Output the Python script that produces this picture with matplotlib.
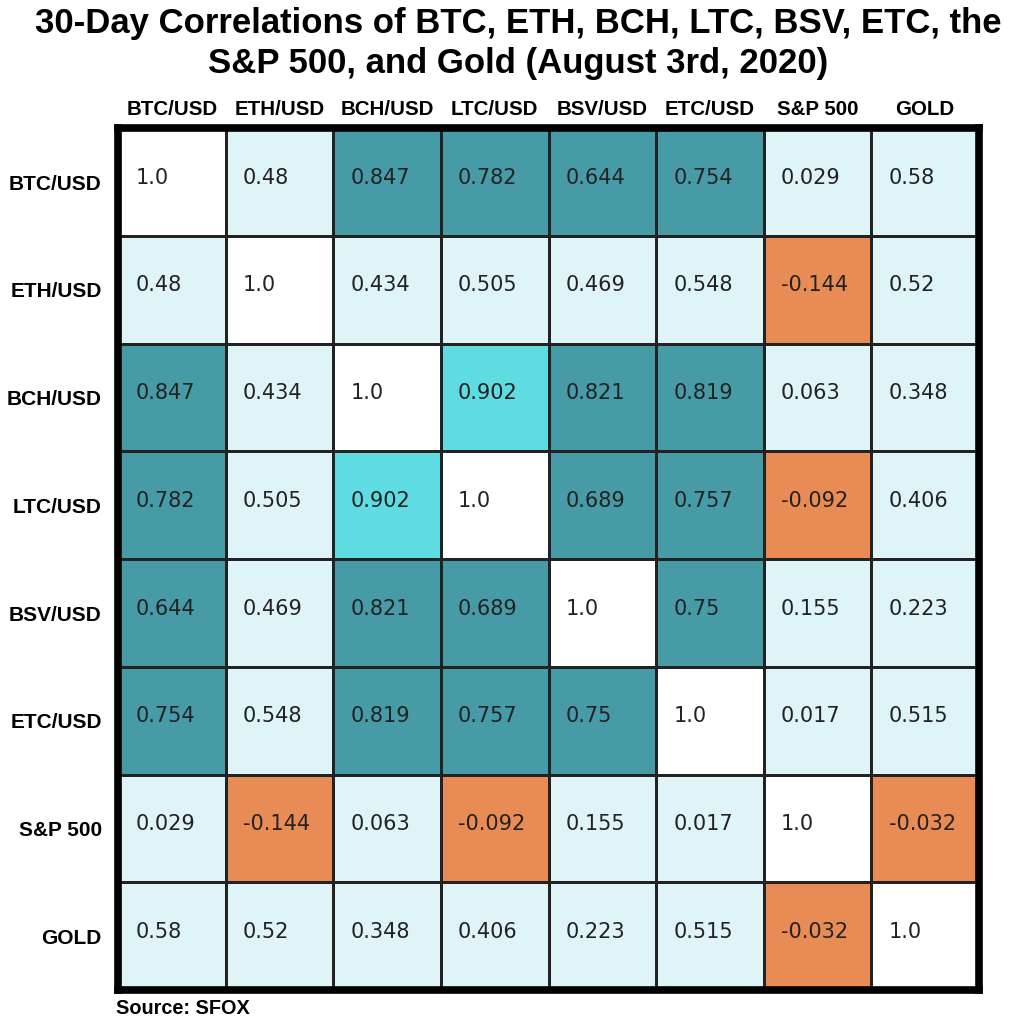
import numpy as np
import matplotlib
matplotlib.use("Agg")
import matplotlib.pyplot as plt
from matplotlib.colors import ListedColormap, BoundaryNorm

labels = ["BTC/USD", "ETH/USD", "BCH/USD", "LTC/USD", "BSV/USD", "ETC/USD", "S&P 500", "GOLD"]
btc = [1.0, 0.48, 0.847, 0.782, 0.644, 0.754, 0.029, 0.58]
eth = [0.48, 1.0, 0.434, 0.505, 0.469, 0.548, -0.144, 0.52]
bch = [0.847, 0.434, 1.0, 0.902, 0.821, 0.819, 0.063, 0.348]
ltc = [0.782, 0.505, 0.902, 1.0, 0.689, 0.757, -0.092, 0.406]
bsv = [0.644, 0.469, 0.821, 0.689, 1.0, 0.75, 0.155, 0.223]
etc = [0.754, 0.548, 0.819, 0.757, 0.75, 1.0, 0.017, 0.515]
spx = [0.029, -0.144, 0.063, -0.092, 0.155, 0.017, 1.0, -0.032]
gold = [0.58, 0.52, 0.348, 0.406, 0.223, 0.515, -0.032, 1.0]
rows = [btc, eth, bch, ltc, bsv, etc, spx, gold]

data = np.array(rows)

cmap = ListedColormap(["#e88b55", "#dff4f7", "#479ba6", "#5fdce1", "#ffffff"])
norm = BoundaryNorm([-1.0, 0.0, 0.6, 0.9, 0.99, 1.01], cmap.N)

fig = plt.figure(figsize=(10.11, 10.24), dpi=100)
ax = fig.add_axes([118/1011, 1 - 990/1024, (979-118)/1011, (990-128)/1024])
n = len(labels)
ax.pcolormesh(np.arange(n + 1), np.arange(n + 1), data, cmap=cmap, norm=norm,
              edgecolor="#222222", linewidth=0.8)
ax.set_xlim(0, n)
ax.set_ylim(n, 0)
ax.set_xticks([])
ax.set_yticks([])
for s in ax.spines.values():
    s.set_linewidth(5.5)
    s.set_color("black")

for i in range(n):
    for j in range(n):
        ax.text(j + 0.16, i + 0.46, str(data[i, j]), ha="left", va="center",
                fontsize=15, color="#222222", family="DejaVu Sans")

head_font = ["Liberation Sans", "DejaVu Sans"]
for j, lab in enumerate(labels):
    ax.text(j + 0.5, -0.17, lab, ha="center", va="center", fontsize=14.8,
            fontweight="bold", family=head_font)
for i, lab in enumerate(labels):
    ax.text(-0.15, i + 0.52, lab, ha="right", va="center", fontsize=15,
            fontweight="bold", family=head_font)

title_font = ["Liberation Sans", "DejaVu Sans"]
fig.text(518/1011, 1 - 24/1024, "30-Day Correlations of BTC, ETH, BCH, LTC, BSV, ETC, the",
         ha="center", va="center", fontsize=25, fontweight="bold", family=title_font)
fig.text(518/1011, 1 - 64/1024, "S&P 500, and Gold (August 3rd, 2020)",
         ha="center", va="center", fontsize=25, fontweight="bold", family=title_font)
fig.text(116/1011, 1 - 1008/1024, "Source: SFOX", ha="left", va="center",
         fontsize=14.3, fontweight="bold", family=head_font)

fig.savefig("out.png", dpi=100)
